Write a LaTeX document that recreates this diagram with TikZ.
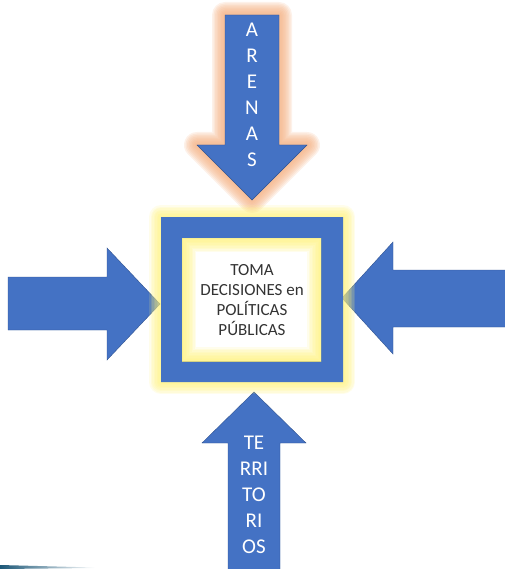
\documentclass[tikz,border=0pt]{standalone}
\usepackage{fontspec}
\setmainfont{Carlito}
\definecolor{azul}{HTML}{4472C4}
\definecolor{azulborde}{HTML}{2F528F}
\definecolor{brillonaranja}{HTML}{F4B183}
\definecolor{brilloamarillo}{HTML}{FFF176}
\definecolor{franja}{HTML}{1D5878}
\tikzset{
	flecha/.style={fill=azul, draw=azulborde, line width=0.4pt},
	letras/.style={text=white, align=center, font=\fontsize{21}{26}\selectfont},
	centro/.style={text=black!80, align=center, font=\fontsize{17}{20}\selectfont},
}
\begin{document}
\begin{tikzpicture}[x=1pt,y=-1pt]
	\useasboundingbox (0,0) rectangle (504,569);
	\def\arriba{(225,15) -- (279,15) -- (279,145) -- (307,145) -- (252,200) -- (197,145) -- (225,145) -- cycle}
	\def\caja{(161,217) rectangle (343,382)}
	\def\hueco{(182,238) rectangle (321,361)}

	% brillo naranja de la flecha superior
	\foreach \w in {26,23,...,2}
		\draw[brillonaranja, line width=\w pt, opacity=0.18, line join=round] \arriba;
	\draw[flecha] \arriba;

	% flechas laterales y de abajo
	\draw[flecha] (8,277) -- (107,277) -- (107,248) -- (160,304) -- (107,360) -- (107,330) -- (8,330) -- cycle;
	\draw[flecha] (505,270) -- (393,270) -- (393,242) -- (342,298) -- (393,354) -- (393,327) -- (505,327);
	\draw[flecha] (228,570) -- (228,443) -- (202,443) -- (254,392) -- (306,443) -- (280,443) -- (280,570);

	% caja central con brillo amarillo
	\foreach \w in {24,21,...,1}
		\draw[brilloamarillo, line width=\w pt, opacity=0.15, line join=round] \caja;
	\fill[azul, even odd rule] \caja \hueco;
	\begin{scope}
		\clip \hueco;
		\foreach \w in {28,25,...,1}
			\draw[brilloamarillo, line width=\w pt, opacity=0.14] \hueco;
	\end{scope}

	\node[centro] (decisiones) at (252,300) {TOMA\\DECISIONES en\\POLÍTICAS\\PÚBLICAS};
	\node[letras] (arenas) at (252,95) {A\\R\\E\\N\\A\\S};
	\node[letras] (territorios) at (254,495) {TE\\RRI\\TO\\RI\\OS};

	% franja de la diapositiva
	\shade[left color=franja, right color=white] (0,565) -- (95,567.5) -- (95,568) -- (0,569) -- cycle;
\end{tikzpicture}
\end{document}
